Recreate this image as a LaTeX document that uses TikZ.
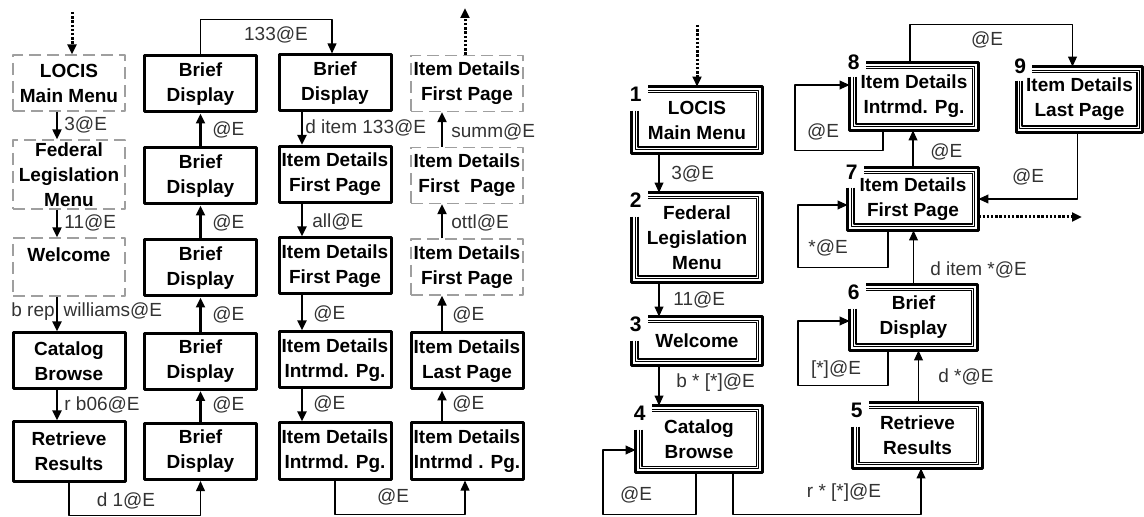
\documentclass[tikz,border=0pt]{standalone}
\usepackage{fontspec}
\setmainfont{Liberation Sans}
\usetikzlibrary{arrows.meta,calc}

\newcommand{\scrframe}[3][12pt]{%
	\foreach \off/\lw in {0pt/1.5pt,1.75pt/0.5pt,3pt/0.9pt}{%
		\draw[line width=\lw] ([xshift=\off,yshift=-#1]#2.north west) |- ([xshift=-\off,yshift=\off]#2.south east) |- ([xshift=8pt,yshift=-\off]#2.north west);
	}
	\node[num] at ([xshift=2pt,yshift={(7pt-#1)*0.8}]#2.north west) {#3};
}

\begin{document}
\begin{tikzpicture}[x=0.5pt,y=-0.5pt,font=\fontsize{9.5}{12.5}\selectfont,line join=round,>={Triangle[length=5pt,width=4.4pt]},
	lbox/.style={draw,line width=1.5pt,minimum width=56pt,minimum height=28pt,inner sep=0pt,align=center,execute at begin node=\bfseries},
	dbox/.style={lbox,draw=gray!75,line width=0.6pt,dash pattern=on 6pt off 3pt},
	rbox/.style={inner sep=0pt,align=center,execute at begin node=\bfseries},
	num/.style={inner sep=0pt,font=\fontsize{10.5}{12}\selectfont\bfseries},
	lbl/.style={inner sep=0pt,text=black!80},
	thickarrow/.style={->,line width=1.2pt},
	thinarrow/.style={->,line width=0.65pt},
	dotarrow/.style={->,line width=1.5pt,dash pattern=on 1.2pt off 0.9pt}]
	\useasboundingbox (0,0) rectangle (1144,517);
	% left: first column
	\node[dbox] (lmain) at (69,83) {LOCIS\\Main Menu};
	\node[dbox,minimum height=34.5pt] (lfed) at (69,174.5) {Federal\\Legislation\\Menu};
	\node[dbox,minimum height=29pt] (lwel) at (69,267) {Welcome\\\mbox{}};
	\node[lbox] (lcat) at (69,361) {Catalog\\Browse};
	\node[lbox,minimum height=29.5pt] (lret) at (69,451.5) {Retrieve\\Results};
	\coordinate (lin) at (72,12);
	\draw[dotarrow] (lin) -- (lin |- lmain.north);
	\draw[thickarrow] ([xshift=-6pt]lmain.south) -- ([xshift=-6pt]lfed.north);
	\draw[thickarrow] ([xshift=-6pt]lfed.south) -- ([xshift=-6pt]lwel.north);
	\draw[thickarrow] ([xshift=-6pt]lwel.south) -- ([xshift=-6pt]lcat.north);
	\draw[thickarrow] ([xshift=-6pt]lcat.south) -- ([xshift=-6pt]lret.north);
	\node[lbl,anchor=west] at (64,125) {3@E};
	\node[lbl,anchor=west] at (64,223) {11@E};
	\node[lbl,anchor=west] at (11,312) {b rep\hspace{4.5pt}williams@E};
	\node[lbl,anchor=west] at (64,405) {r b06@E};
	% second column
	\node[lbox] (bb1) at (200.5,84) {Brief\\Display};
	\node[lbox] (bb2) at (200.5,176) {Brief\\Display};
	\node[lbox] (bb3) at (200.5,268) {Brief\\Display};
	\node[lbox] (bb4) at (200.5,361.5) {Brief\\Display};
	\node[lbox] (bb5) at (200.5,451.5) {Brief\\Display};
	\draw[thinarrow] (lret.south) -- ++(0,33) -| (bb5.south);
	\node[lbl] at (126,501) {d 1@E};
	\draw[thickarrow] (bb5.north) -- (bb4.south);
	\draw[thickarrow] (bb4.north) -- (bb3.south);
	\draw[thickarrow] (bb3.north) -- (bb2.south);
	\draw[thickarrow] (bb2.north) -- (bb1.south);
	\node[lbl,anchor=west] at (212,405) {@E};
	\node[lbl,anchor=west] at (212,315) {@E};
	\node[lbl,anchor=west] at (212,223) {@E};
	\node[lbl,anchor=west] at (212,130) {@E};
	% third column
	\node[lbox] (cc1) at (335,83) {Brief\\Display};
	\node[lbox] (cc2) at (335,174.5) {Item Details\\First Page};
	\node[lbox] (cc3) at (335,266) {Item Details\\First Page};
	\node[lbox] (cc4) at (335,360) {Item Details\\Intrmd. Pg.};
	\node[lbox] (cc5) at (335,451) {Item Details\\Intrmd. Pg.};
	\draw[thinarrow] (bb1.north) -- ++(0,-35) -| ([xshift=-1.5pt]cc1.north);
	\node[lbl] at (276,35) {133@E};
	\draw[thickarrow] ([xshift=-16.5pt]cc1.south) -- ([xshift=-16.5pt]cc2.north);
	\draw[thickarrow] ([xshift=-16.5pt]cc2.south) -- ([xshift=-16.5pt]cc3.north);
	\draw[thickarrow] ([xshift=-16.5pt]cc3.south) -- ([xshift=-16.5pt]cc4.north);
	\draw[thickarrow] ([xshift=-16.5pt]cc4.south) -- ([xshift=-16.5pt]cc5.north);
	\node[lbl,anchor=west] at (305,128) {d item 133@E};
	\node[lbl,anchor=west] at (312,222) {all@E};
	\node[lbl,anchor=west] at (313,314) {@E};
	\node[lbl,anchor=west] at (313,404) {@E};
	% fourth column
	\node[dbox] (dd1) at (467,83.5) {Item Details\\First Page};
	\node[dbox] (dd2) at (467,175.5) {Item Details\\First\ \ Page};
	\node[dbox] (dd3) at (467,267) {Item Details\\First Page};
	\node[lbox] (dd4) at (467,361) {Item Details\\Last Page};
	\node[lbox] (dd5) at (467,451) {Item Details\\Intrmd . Pg.};
	\draw[thinarrow] (cc5.south) -- ++(0,34) -| ([xshift=-1pt]dd5.south);
	\node[lbl] at (393,497) {@E};
	\draw[thickarrow] ([xshift=-12.5pt]dd5.north) -- ([xshift=-12.5pt]dd4.south);
	\draw[thickarrow] ([xshift=-12.5pt]dd4.north) -- ([xshift=-12.5pt]dd3.south);
	\draw[thickarrow] ([xshift=-12.5pt]dd3.north) -- ([xshift=-12.5pt]dd2.south);
	\draw[thickarrow] ([xshift=-12.5pt]dd2.north) -- ([xshift=-12.5pt]dd1.south);
	\node[lbl,anchor=west] at (452,404) {@E};
	\node[lbl,anchor=west] at (452,315) {@E};
	\node[lbl,anchor=west] at (451,223) {ottl@E};
	\node[lbl,anchor=west] at (451,132) {summ@E};
	\coordinate (dout) at (465,8);
	\draw[dotarrow] ([xshift=-1pt]dd1.north) -- (dout);
	% right: numbered screens
	\node[rbox,minimum width=65pt,minimum height=33pt] (r1) at (697,120) {LOCIS\\Main Menu};
	\node[rbox,minimum width=65pt,minimum height=44.5pt] (r2) at (697,237.5) {Federal\\Legislation\\Menu};
	\node[rbox,minimum width=65pt,minimum height=24pt] (r3) at (697,341) {Welcome};
	\node[rbox,minimum width=63pt,minimum height=33pt] (r4) at (699,439) {Catalog\\Browse};
	\node[rbox,minimum width=64.5pt,minimum height=32.5pt] (r5) at (917.5,435.5) {Retrieve\\Results};
	\node[rbox,minimum width=63.5pt,minimum height=32.5pt] (r6) at (913.5,317.5) {Brief\\Display};
	\node[rbox,minimum width=65pt,minimum height=31pt] (r7) at (913,199) {Item Details\\First Page};
	\node[rbox,minimum width=64pt,minimum height=33.5pt] (r8) at (914,96.5) {Item Details\\Intrmd. Pg.};
	\node[rbox,minimum width=63pt,minimum height=32.5pt] (r9) at (1079.5,99.5) {Item Details\\Last Page};
	\scrframe{r1}{1}
	\scrframe{r2}{2}
	\scrframe{r3}{3}
	\scrframe{r4}{4}
	\scrframe{r5}{5}
	\scrframe{r6}{6}
	\scrframe[10pt]{r7}{7}
	\scrframe[7pt]{r8}{8}
	\scrframe[7pt]{r9}{9}
	\coordinate (rin) at (697,25);
	\draw[dotarrow] (rin) -- (rin |- r1.north);
	\draw[thinarrow] ([xshift=-19pt]r1.south) -- ([xshift=-19pt]r2.north);
	\draw[thinarrow] ([xshift=-19pt]r2.south) -- ([xshift=-19pt]r3.north);
	\draw[thinarrow] ([xshift=-19pt]r3.south) -- ([xshift=-19pt]r3.south |- r4.north);
	\node[lbl,anchor=west] at (671,174) {3@E};
	\node[lbl,anchor=west] at (673,300) {11@E};
	\node[lbl,anchor=west] at (676,383) {b * [*]@E};
	\draw[thinarrow] ([xshift=-1.5pt]r4.south) -- ++(0,42) -- ++(-93,0) |- ([yshift=-5.5pt]r4.west);
	\node[lbl] at (636,495) {@E};
	\draw[thinarrow] ([xshift=17pt]r4.south) -- ++(0,42) -| ([xshift=1.75pt]r5.south);
	\node[lbl] at (844,493) {r * [*]@E};
	\draw[thinarrow] ([xshift=0.5pt]r5.north) -- ([xshift=0.5pt]r5.north |- r6.south);
	\node[lbl,anchor=west] at (938,377) {d *@E};
	\draw[thinarrow] ([xshift=-12.75pt]r6.south) -- ++(0,35) -- ++(-90,0) |- ([yshift=-1.75pt]r6.west);
	\node[lbl] at (836,370) {[*]@E};
	\draw[thinarrow] (r6.north) -- (r6.north |- r7.south);
	\node[lbl,anchor=west] at (930,270) {d item *@E};
	\draw[thinarrow] ([xshift=-12.5pt]r7.south) -- ++(0,37) -- ++(-90,0) |- ([yshift=-3pt]r7.west);
	\node[lbl,anchor=west] at (808,248) {*@E};
	\draw[thinarrow] (r7.north) -- (r7.north |- r8.south);
	\node[lbl,anchor=west] at (930,152) {@E};
	\draw[thinarrow] ([xshift=-15.5pt]r8.south) -- ++(0,20) -- ++(-88,0) |- ([yshift=5.75pt]r8.west);
	\node[lbl] at (823,132) {@E};
	\draw[thinarrow] ([xshift=-2pt]r8.north) -- ++(0,-38) -| ([xshift=-3.5pt]r9.north);
	\node[lbl] at (987,40) {@E};
	\draw[thinarrow] ([xshift=-1pt]r9.south) |- (r7.east);
	\node[lbl] at (1028,177) {@E};
	\coordinate (rout) at (1082,217);
	\draw[dotarrow] ([yshift=-9pt]r7.east) -- (rout);
\end{tikzpicture}
\end{document}
